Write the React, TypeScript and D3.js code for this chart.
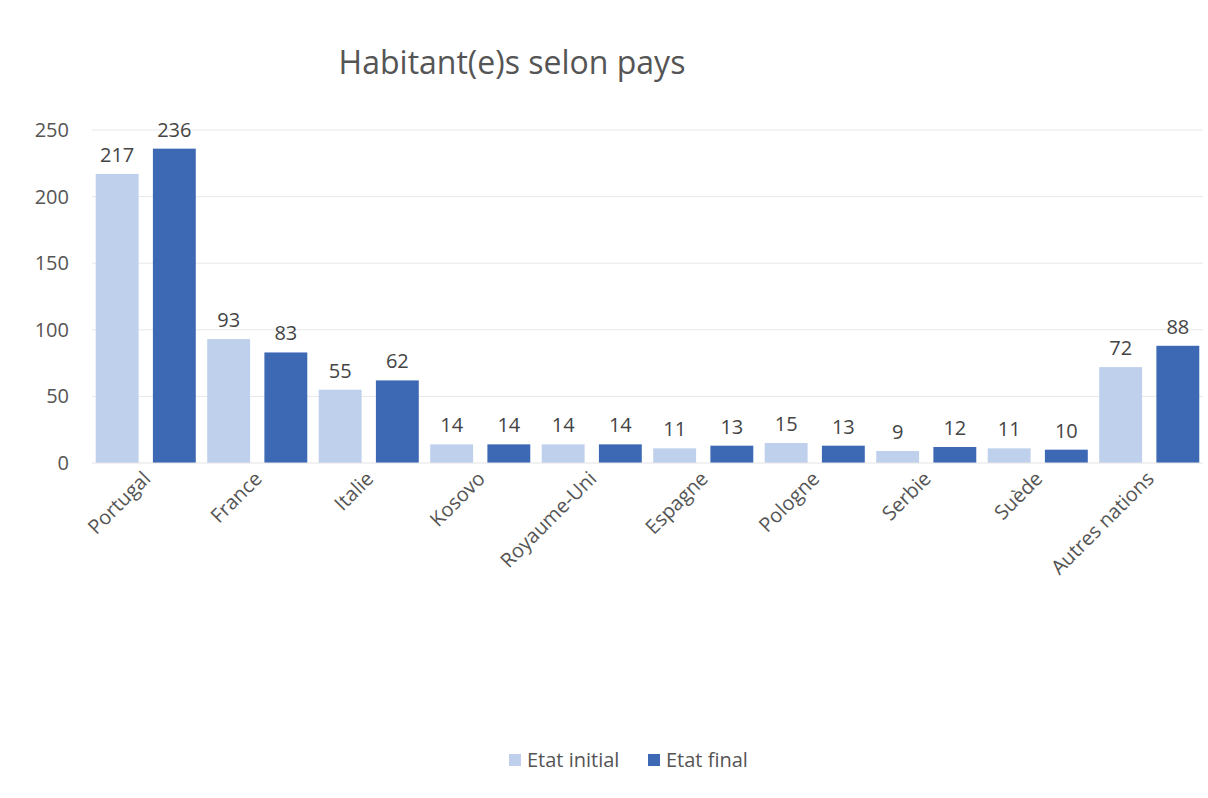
import React from "react";
import * as d3 from "d3";

const categories = ["Portugal", "France", "Italie", "Kosovo", "Royaume-Uni", "Espagne", "Pologne", "Serbie", "Suède", "Autres nations"];
const etatInitial = [217, 93, 55, 14, 14, 11, 15, 9, 11, 72];
const etatFinal = [236, 83, 62, 14, 14, 13, 13, 12, 10, 88];
const yTicks = [0, 50, 100, 150, 200, 250];
const seriesNames = ["Etat initial", "Etat final"];

const W = 1208, H = 798;
const FONT = "'Open Sans', 'Liberation Sans', sans-serif";
const colors = ["#bfd0ec", "#3d68b4"];

export default function App() {
  const x = d3.scaleBand<string>().domain(categories).range([90, 1205]).paddingInner(0).paddingOuter(0);
  const sub = d3.scaleBand<number>().domain([0, 1]).range([0, x.bandwidth()]).paddingInner(0.25).paddingOuter(0.1);
  const y = d3.scaleLinear().domain([0, 250]).range([463, 130]);
  const series = [etatInitial, etatFinal];

  return (
    <svg width={W} height={H} style={{ display: "block", position: "absolute", left: 0, top: 0, background: "#fff" }}>
      <rect width={W} height={H} fill="#fff" />
      <text x={512} y={74} textAnchor="middle" fontFamily={FONT} fontSize={32} fill="#555">Habitant(e)s selon pays</text>
      {yTicks.map(t => (
        <g key={t}>
          {t > 0 && <line x1={92} x2={1203} y1={y(t)} y2={y(t)} stroke="#e8e8e8" strokeWidth={1} />}
          <text x={69} y={y(t) + 7} textAnchor="end" fontFamily={FONT} fontSize={20} fill="#555">{t}</text>
        </g>
      ))}
      {categories.map((c, i) => (
        <g key={c}>
          {series.map((s, j) => {
            const bx = (x(c) as number) + (sub(j) as number);
            return (
              <g key={j}>
                <rect x={bx} y={y(s[i])} width={sub.bandwidth()} height={y(0) - y(s[i])} fill={colors[j]} />
                <text x={bx + sub.bandwidth() / 2} y={y(s[i]) - 12} textAnchor="middle" fontFamily={FONT} fontSize={20} fill="#444">{s[i]}</text>
              </g>
            );
          })}
          <text
            transform={`translate(${(x(c) as number) + x.bandwidth() / 2 + 6},${480}) rotate(-45)`}
            textAnchor="end" fontFamily={FONT} fontSize={20} fill="#555">{c}</text>
        </g>
      ))}
      <line x1={92} x2={1203} y1={y(0)} y2={y(0)} stroke="#e4e4e4" />
      {seriesNames.map((n, j) => {
        const lx = j === 0 ? 509 : 648;
        return (
          <g key={n}>
            <rect x={lx} y={754} width={12} height={12} fill={colors[j]} />
            <text x={lx + 18} y={767} fontFamily={FONT} fontSize={20} fill="#555">{n}</text>
          </g>
        );
      })}
    </svg>
  );
}
